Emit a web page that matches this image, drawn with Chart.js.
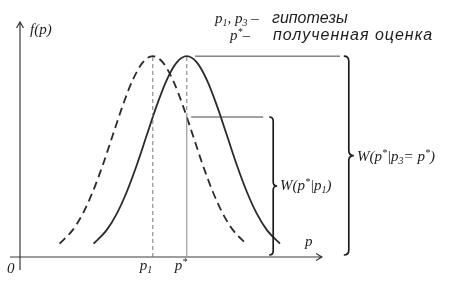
<!DOCTYPE html>
<html>
<head>
<meta charset="utf-8">
<script src="https://cdn.jsdelivr.net/npm/chart.js@4/dist/chart.umd.min.js"></script>
<style>
  body { margin: 0; background: #fff; }
  canvas { display: block; }
</style>
</head>
<body>
<canvas id="mycanvas" width="450" height="290"></canvas>
<script>
// p in units of sigma, f(p) normalised so the peak is 1
var p1 = 3.32;
var pStar = 4.17;
var hypX = [0.99, 1.32, 1.57, 1.82, 2.07, 2.32, 2.57, 2.82, 3.07, 3.32, 3.57, 3.82, 4.07, 4.32, 4.57, 4.82, 5.07, 5.32, 5.65];
var hypY = [0.066, 0.135, 0.216, 0.325, 0.458, 0.607, 0.755, 0.882, 0.969, 1, 0.969, 0.882, 0.755, 0.607, 0.458, 0.325, 0.216, 0.135, 0.066];
var estX = [1.84, 2.17, 2.42, 2.67, 2.92, 3.17, 3.42, 3.67, 3.92, 4.17, 4.42, 4.67, 4.92, 5.17, 5.42, 5.67, 5.92, 6.17, 6.50];
var estY = [0.066, 0.135, 0.216, 0.325, 0.458, 0.607, 0.755, 0.882, 0.969, 1, 0.969, 0.882, 0.755, 0.607, 0.458, 0.325, 0.216, 0.135, 0.066];
var peak = 1;
var wLow = 0.697;   // f(p* | p1)
var topLineX = [4.375, 8.0];
var lowLineX = [4.28, 6.08];

function pts(xs, ys) {
  return xs.map(function(x, i) { return { x: x, y: ys[i] }; });
}

var mathFont = 'italic 15px "Liberation Serif", "DejaVu Serif", serif';
var smallFont = 'italic 10px "Liberation Serif", "DejaVu Serif", serif';
var ruFont = 'italic 16px "Liberation Sans", Arial, sans-serif';

// parts: [text, 'sub'|'sup'|null]
function drawMath(ctx, x, y, parts) {
  parts.forEach(function(p) {
    var dy = 0;
    if (p[1] === 'sub') { ctx.font = smallFont; dy = 3; }
    else if (p[1] === 'sup') { ctx.font = smallFont; dy = -5; }
    else ctx.font = mathFont;
    ctx.fillText(p[0], x, y + dy);
    x += ctx.measureText(p[0]).width;
  });
  return x;
}

function brace(ctx, x, top, bot, w) {
  var mid = (top + bot) / 2;
  ctx.beginPath();
  ctx.moveTo(x - w, top);
  ctx.quadraticCurveTo(x, top, x, top + w);
  ctx.lineTo(x, mid - w);
  ctx.quadraticCurveTo(x, mid, x + w, mid);
  ctx.quadraticCurveTo(x, mid, x, mid + w);
  ctx.lineTo(x, bot - w);
  ctx.quadraticCurveTo(x, bot, x - w, bot);
  ctx.stroke();
}

var decor = {
  id: 'decor',
  beforeDatasetsDraw: function(chart) {
    var ctx = chart.ctx, xs = chart.scales.x, ys = chart.scales.y;
    var x0 = xs.getPixelForValue(0), y0 = ys.getPixelForValue(0);
    ctx.save();
    ctx.strokeStyle = '#3a3a3a';
    ctx.lineWidth = 1.2;
    ctx.beginPath();
    // x axis
    ctx.moveTo(10, y0); ctx.lineTo(322, y0);
    ctx.moveTo(316, y0 - 3.5); ctx.lineTo(322, y0); ctx.lineTo(316, y0 + 3.5);
    // y axis
    ctx.moveTo(x0, 270); ctx.lineTo(x0, 22);
    ctx.moveTo(x0 - 3.5, 28); ctx.lineTo(x0, 22); ctx.lineTo(x0 + 3.5, 28);
    ctx.stroke();
    ctx.restore();
  },
  afterDraw: function(chart) {
    var ctx = chart.ctx, xs = chart.scales.x, ys = chart.scales.y;
    var y0 = ys.getPixelForValue(0);
    ctx.save();
    ctx.fillStyle = '#1e1e1e';
    ctx.strokeStyle = '#1e1e1e';
    ctx.textBaseline = 'alphabetic';

    // braces
    ctx.lineWidth = 1.7;
    brace(ctx, xs.getPixelForValue(6.33), ys.getPixelForValue(wLow), y0 - 2, 4);
    brace(ctx, xs.getPixelForValue(8.22), ys.getPixelForValue(peak), y0 - 2, 5);

    // axis labels
    drawMath(ctx, 30, 34, [['f(p)']]);
    drawMath(ctx, 7, 273, [['0']]);
    drawMath(ctx, xs.getPixelForValue(p1) - 13, 270, [['p'], ['1', 'sub']]);
    drawMath(ctx, xs.getPixelForValue(pStar) - 12, 270, [['p'], ['*', 'sup']]);
    drawMath(ctx, 305, 246, [['p']]);

    // brace labels
    drawMath(ctx, 280, 190, [['W(p'], ['*', 'sup'], ['|p'], ['1', 'sub'], [')']]);
    drawMath(ctx, 357, 161, [['W(p'], ['*', 'sup'], ['|p'], ['3', 'sub'], ['= p'], ['*', 'sup'], [')']]);

    // legend text
    drawMath(ctx, 215, 23, [['p'], ['1', 'sub'], [', p'], ['3', 'sub'], [' \u2013']]);
    ctx.font = ruFont;
    ctx.fillText('гипотезы', 272, 23);
    drawMath(ctx, 230, 40, [['p'], ['*', 'sup'], ['\u2013']]);
    ctx.font = ruFont;
    ctx.letterSpacing = '1px';
    ctx.fillText('полученная оценка', 273, 40);
    ctx.letterSpacing = '0px';
    ctx.restore();
  }
};

var ctx = document.getElementById('mycanvas');

var chartdata = {
  datasets: [
    {
      // guide at p1
      data: pts([p1, p1], [0, peak]),
      borderColor: '#777', borderWidth: 1, borderDash: [4, 3]
    },
    {
      // guide at p*, dashed above the crossing
      data: pts([pStar, pStar], [wLow, peak]),
      borderColor: '#777', borderWidth: 1, borderDash: [4, 3]
    },
    {
      data: pts([pStar, pStar], [0, wLow]),
      borderColor: '#888', borderWidth: 1
    },
    {
      data: pts(topLineX, [peak, peak]),
      borderColor: '#444', borderWidth: 1
    },
    {
      data: pts(lowLineX, [wLow, wLow]),
      borderColor: '#444', borderWidth: 1
    },
    {
      // f(p | p1)
      data: pts(hypX, hypY),
      borderColor: '#2a2a2a', borderWidth: 1.8, borderDash: [8, 5],
      cubicInterpolationMode: 'monotone'
    },
    {
      // f(p | p3 = p*)
      data: pts(estX, estY),
      borderColor: '#2a2a2a', borderWidth: 1.8,
      cubicInterpolationMode: 'monotone'
    }
  ]
};

chartdata.datasets.forEach(function(d) {
  d.showLine = true;
  d.pointRadius = 0;
  d.fill = false;
});

var graph = new Chart(ctx, {
  type: 'scatter',
  data: chartdata,
  options: {
    responsive: false,
    animation: false,
    layout: { padding: { left: 20, right: 0, top: 22, bottom: 33 } },
    plugins: { legend: { display: false }, tooltip: { enabled: false } },
    scales: {
      x: { type: 'linear', min: 0, max: 10.75, display: false },
      y: { type: 'linear', min: 0, max: 1.17, display: false }
    }
  },
  plugins: [decor]
});
</script>
</body>
</html>
